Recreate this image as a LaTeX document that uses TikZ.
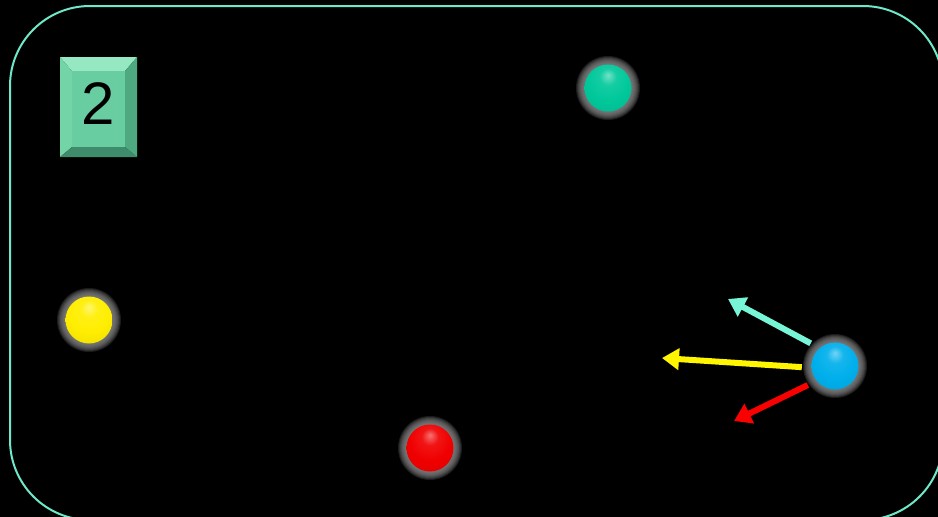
\documentclass[tikz,border=0pt]{standalone}
\usepackage{fontspec}
\setmainfont{Liberation Sans}
\usetikzlibrary{arrows.meta,shadings}
\definecolor{frame}{RGB}{110,232,200}
\definecolor{bevtop}{RGB}{150,232,195}
\definecolor{bevleft}{RGB}{115,212,168}
\definecolor{bevright}{RGB}{78,168,128}
\definecolor{bevbot}{RGB}{62,140,108}
\definecolor{bevface}{RGB}{104,206,162}
\definecolor{haloc}{RGB}{135,135,135}
\definecolor{ballteal}{RGB}{0,200,155}
\definecolor{ballyellow}{RGB}{255,238,0}
\definecolor{ballred}{RGB}{240,0,0}
\definecolor{ballblue}{RGB}{0,175,235}
\definecolor{arrcyan}{RGB}{120,245,215}
\definecolor{arryellow}{RGB}{255,245,0}
\definecolor{arrred}{RGB}{250,0,0}
\colorlet{ballc}{red}
\pgfdeclareradialshading[ballc]{glossball}{\pgfpoint{0bp}{14bp}}{color(0bp)=(ballc!55!white); color(9bp)=(ballc!92!white); color(22bp)=(ballc); color(40bp)=(ballc!92!black); color(48bp)=(ballc!72!black); color(60bp)=(ballc!72!black)}
\tikzset{
  ballnode/.style={circle, minimum size=66pt, inner sep=0pt,
    path picture={
      \foreach \r in {32,31,...,24} {\fill[haloc, opacity=0.2] (path picture bounding box.center) circle (\r pt);}
      \colorlet{ballc}{#1}\shade[shading=glossball] (path picture bounding box.center) circle (23.5pt);}},
  vec/.style={line width=6pt, -{Triangle[width=21pt,length=17pt]}},
}
\begin{document}
\begin{tikzpicture}[x=1pt,y=-1pt]
\useasboundingbox (0,0) rectangle (938,517);
\fill[black] (0,0) rectangle (938,517);
\begin{scope}
\clip (0,0) rectangle (938,517);
\draw[frame, line width=2pt, rounded corners=80pt] (10,6) rectangle (943,520);
\end{scope}
% bevelled badge
\fill[bevtop] (60,57) -- (137,57) -- (125,71) -- (72,71) -- cycle;
\fill[bevleft] (60,57) -- (72,71) -- (72,147) -- (60,157) -- cycle;
\fill[bevright] (137,57) -- (137,157) -- (125,147) -- (125,71) -- cycle;
\fill[bevbot] (60,157) -- (72,147) -- (125,147) -- (137,157) -- cycle;
\fill[bevface] (72,71) rectangle (125,147);
\node[font=\fontsize{60}{60}\selectfont, text=black, inner sep=0pt] (badge) at (98.5,104) {2};
% balls
\node[ballnode=ballteal] (teal) at (608,88) {};
\node[ballnode=ballyellow] (yellow) at (89,320) {};
\node[ballnode=ballred] (red) at (430,448) {};
\node[ballnode=ballblue] (blue) at (835,366) {};
% vectors
\coordinate (cyantip) at (728,299);
\coordinate (yellowtip) at (662,358);
\coordinate (redtip) at (734,421);
\draw[vec, arrcyan] (blue.137) -- (cyantip);
\draw[vec, arryellow] (blue.182) -- (yellowtip);
\draw[vec, arrred] (blue.215) -- (redtip);
\end{tikzpicture}
\end{document}
